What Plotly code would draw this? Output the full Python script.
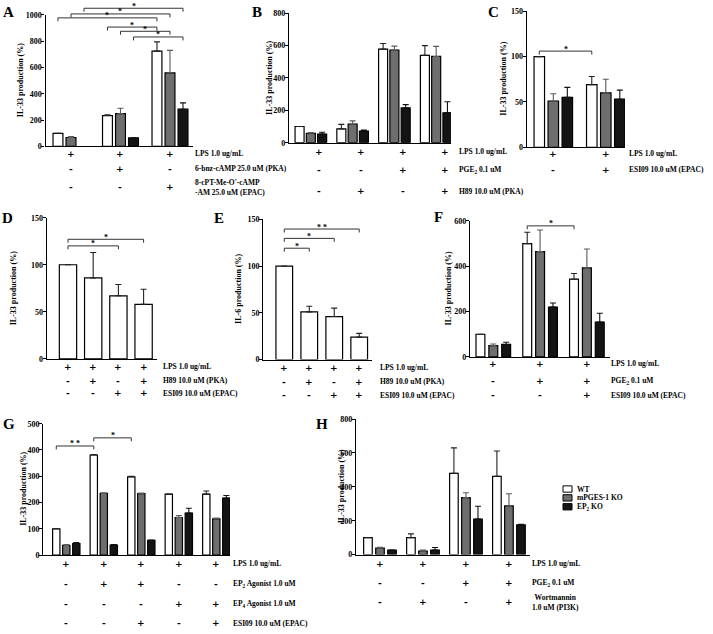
import plotly.graph_objects as go

W, H = 713, 634
SERIF = "Liberation Serif, Times New Roman, serif"
SANS = "DejaVu Sans, sans-serif"

# ---------------- data (values in % of control) ----------------
# A: cAMP analogues
a_wt = [100, 235, 725]
a_wt_err = [0, 5, 70]
a_mp = [68, 250, 560]
a_mp_err = [8, 40, 170]
a_ep = [None, 65, 283]
a_ep_err = [0, 0, 48]
a_labels = ["LPS 1.0 ug/mL", "6-bnz-cAMP 25.0 uM (PKA)", "8-cPT-Me-O'-cAMP<br>-AM 25.0 uM (EPAC)"]
a_signs = [["+", "+", "+"], ["-", "+", "-"], ["-", "-", "+"]]
a_sig = [((0, 2), (2, 2), 1050, "*"), ((0, 1), (2, 1), 1007, "*"), ((0, 0), (2, 0), 977, "*"),
         ((1, 0), (2, 0), 907, "*"), ((1, 1), (2, 1), 875, "*"), ((1, 2), (2, 2), 832, "*")]

# B: PGE2 + H89
b_wt = [100, 85, 578, 540]
b_wt_err = [0, 28, 35, 60]
b_mp = [58, 115, 572, 533]
b_mp_err = [5, 20, 25, 62]
b_ep = [53, 72, 215, 185]
b_ep_err = [12, 6, 20, 68]
b_labels = ["LPS 1.0 ug/mL", "PGE<sub>2</sub> 0.1 uM", "H89 10.0 uM (PKA)"]
b_signs = [["+", "+", "+", "+"], ["-", "-", "+", "+"], ["-", "+", "-", "+"]]
b_sig = []

# C: ESI09
c_wt = [100, 69]
c_wt_err = [0, 9]
c_mp = [51, 60]
c_mp_err = [8, 15]
c_ep = [55, 53]
c_ep_err = [11, 10]
c_labels = ["LPS 1.0 ug/mL", "ESI09 10.0 uM (EPAC)"]
c_signs = [["+", "+"], ["-", "+"]]
c_sig = [((0, 0), (1, 0), 106, "*")]

# D: IL-33, H89 / ESI09
d_wt = [100, 86, 67, 58]
d_wt_err = [0, 27, 12, 16]
d_labels = ["LPS 1.0 ug/mL", "H89 10.0 uM (PKA)", "ESI09 10.0 uM (EPAC)"]
d_signs = [["+", "+", "+", "+"], ["-", "+", "-", "+"], ["-", "-", "+", "+"]]
d_sig = [((0, 0), (3, 0), 127, "*"), ((0, 0), (2, 0), 120, "*")]

# E: IL-6, H89 / ESI09
e_wt = [100, 51, 46, 24]
e_wt_err = [0, 6, 9, 4]
e_labels = d_labels
e_signs = d_signs
e_sig = [((0, 0), (1, 0), 119, "*"), ((0, 0), (2, 0), 129.5, "*"), ((0, 0), (3, 0), 139.5, "* *")]

# F: PGE2 + ESI09
f_wt = [100, 500, 343]
f_wt_err = [0, 50, 25]
f_mp = [50, 465, 393]
f_mp_err = [7, 95, 83]
f_ep = [55, 220, 154]
f_ep_err = [10, 18, 39]
f_labels = ["LPS 1.0 ug/mL", "PGE<sub>2</sub> 0.1 uM", "ESI09 10.0 uM (EPAC)"]
f_signs = [["+", "+", "+"], ["-", "+", "+"], ["-", "-", "+"]]
f_sig = [((1, 0), (2, 0), 578, "*")]

# G: EP2 / EP4 agonists
g_wt = [100, 381, 298, 232, 232]
g_wt_err = [0, 2, 2, 0, 12]
g_mp = [37, 235, 234, 143, 138]
g_mp_err = [3, 2, 2, 7, 3]
g_ep = [44, 38, 56, 160, 217]
g_ep_err = [4, 2, 1, 18, 10]
g_labels = ["LPS 1.0 ug/mL", "EP<sub>2</sub> Agonist 1.0 uM", "EP<sub>4</sub> Agonist 1.0 uM",
            "ESI09 10.0 uM (EPAC)"]
g_signs = [["+", "+", "+", "+", "+"], ["-", "+", "+", "-", "-"], ["-", "-", "-", "+", "+"],
           ["-", "-", "+", "-", "+"]]
g_sig = [((0, 0), (1, 0), 415, "* *"), ((1, 0), (2, 0), 446, "*")]

# H: PGE2 + wortmannin
h_wt = [100, 100, 480, 462]
h_wt_err = [0, 22, 150, 150]
h_mp = [38, 20, 336, 287]
h_mp_err = [5, 6, 29, 72]
h_ep = [27, 27, 210, 175]
h_ep_err = [0, 15, 75, 4]
h_labels = ["LPS 1.0 ug/mL", "PGE<sub>2</sub> 0.1 uM", "Wortmannin<br>1.0 uM (PI3K)"]
h_signs = [["+", "+", "+", "+"], ["-", "-", "+", "+"], ["-", "+", "-", "+"]]
h_sig = []

legend_names = ["WT", "mPGES-1 KO", "EP<sub>2</sub> KO"]

# ---------------- styling / geometry (pixels) ----------------
FILLS = ["#ffffff", "#6e6e6e", "#141414"]
ERRC = ["#222222", "#5a5a5a", "#111111"]

GEOM = {
    "A": dict(L=45.5, R=193, T=11, B=144.5, yr=1000, dt=200, xr=[-0.515, 2.465], bw=0.2, step=0.263,
              rows=[152, 167, 186], lx=194, letter=(8, 8), tx=20.5, ytitle="IL-33 production (%)"),
    "B": dict(L=289, R=451, T=9.3, B=140.7, yr=800, dt=200, xr=[-0.523, 3.355], bw=0.216, step=0.27,
              soff=0.2, rows=[150, 168, 190], lx=458, letter=(257, 8), tx=270, ytitle="IL-33 production (%)"),
    "C": dict(L=526.7, R=625, T=7.3, B=145.3, yr=150, dt=50, xr=[-0.507, 1.366], bw=0.2, step=0.267,
              rows=[152, 168], lx=628, letter=(493, 8), tx=503.5, ytitle="IL-33 production (%)"),
    "D": dict(L=46.7, R=156.7, T=216.7, B=360, yr=150, dt=50, xr=[-0.845, 3.52], bw=0.687, step=0,
              rows=[368, 382, 395], lx=162, letter=(7, 217), tx=13, ytitle="IL-33 production (%)"),
    "E": dict(L=263.3, R=371.7, T=218.3, B=360.7, yr=150, dt=50, xr=[-0.84, 3.5], bw=0.668, step=0,
              rows=[369, 383, 397], lx=379, letter=(219, 217), tx=238.5, ytitle="IL-6 production (%)"),
    "F": dict(L=470, R=610, T=220, B=358, yr=600, dt=200, xr=[-0.498, 2.494], bw=0.19, step=0.275,
              rows=[365, 382, 397], lx=610, letter=(439, 216), tx=448.5, ytitle="IL-33 production (%)"),
    "G": dict(L=43.3, R=230, T=425.7, B=559, yr=500, dt=100, xr=[-0.613, 4.365], bw=0.195, step=0.267,
              rows=[568, 588, 609, 628], lx=232, letter=(9, 426), tx=23.5, ytitle="IL-33 production (%)"),
    "H": dict(L=356, R=530, T=421, B=558.5, yr=800, dt=200, xr=[-0.558, 3.49], bw=0.2, step=0.28,
              rows=[568, 587, 607], lx=531, lcenter={2: 555}, letter=(322, 426), tx=341.5,
              ytitle="IL-33 production (%)"),
}

PANELS = [
    ("A", [a_wt, a_mp, a_ep], [a_wt_err, a_mp_err, a_ep_err], a_labels, a_signs, a_sig),
    ("B", [b_wt, b_mp, b_ep], [b_wt_err, b_mp_err, b_ep_err], b_labels, b_signs, b_sig),
    ("C", [c_wt, c_mp, c_ep], [c_wt_err, c_mp_err, c_ep_err], c_labels, c_signs, c_sig),
    ("D", [d_wt], [d_wt_err], d_labels, d_signs, d_sig),
    ("E", [e_wt], [e_wt_err], e_labels, e_signs, e_sig),
    ("F", [f_wt, f_mp, f_ep], [f_wt_err, f_mp_err, f_ep_err], f_labels, f_signs, f_sig),
    ("G", [g_wt, g_mp, g_ep], [g_wt_err, g_mp_err, g_ep_err], g_labels, g_signs, g_sig),
    ("H", [h_wt, h_mp, h_ep], [h_wt_err, h_mp_err, h_ep_err], h_labels, h_signs, h_sig),
]


def px_x(p):
    return p / W


def px_y(p):
    return 1 - p / H


def font(size, family=SERIF):
    return dict(family=family, size=size, color="black", weight="bold")


def note(text, x, y, size, xanchor="center", family=SERIF, **kw):
    return dict(text=text, x=x, y=y, xref="paper", yref="paper", showarrow=False,
                xanchor=xanchor, yanchor="middle", borderpad=0, font=font(size, family), **kw)


fig = go.Figure()
annotations = []
shapes = []


def bar_x(g, grp, s, k):
    off = (s - (k - 1) / 2) * g["step"] if k > 1 else 0
    return grp + off


def paper_x(g, v):
    return (g["L"] + (v - g["xr"][0]) / (g["xr"][1] - g["xr"][0]) * (g["R"] - g["L"])) / W


def paper_y(g, v):
    return px_y(g["B"] - v / g["yr"] * (g["B"] - g["T"]))


for n, (key, series, errs, labels, signs, sig) in enumerate(PANELS, start=1):
    g = GEOM[key]
    xa = "x" if n == 1 else f"x{n}"
    ya = "y" if n == 1 else f"y{n}"
    k = len(series)
    for s, (vals, err) in enumerate(zip(series, errs)):
        off = bar_x(g, 0, s, k)
        fig.add_trace(go.Bar(
            x=list(range(len(vals))), y=vals, width=g["bw"], offset=off - g["bw"] / 2,
            xaxis=xa, yaxis=ya, showlegend=False,
            marker=dict(color=FILLS[s], line=dict(color="black", width=1.2)),
            error_y=dict(type="data", symmetric=False, array=err, arrayminus=[0] * len(err),
                         color=ERRC[s], thickness=1.1, width=3),
        ))
    sfx = "" if n == 1 else str(n)
    fig.update_layout(**{
        f"xaxis{sfx}": dict(domain=[g["L"] / W, g["R"] / W], range=g["xr"], anchor=ya,
                            showline=True, linecolor="black", linewidth=1.3, ticks="",
                            showticklabels=False, showgrid=False, zeroline=False),
        f"yaxis{sfx}": dict(domain=[1 - g["B"] / H, 1 - g["T"] / H], range=[0, g["yr"] * 1.0005],
                            anchor=xa, tick0=0, dtick=g["dt"], ticks="outside", ticklen=3,
                            tickwidth=1.2, tickcolor="black", showline=True, linecolor="black",
                            linewidth=1.3, showgrid=False, zeroline=False, tickfont=font(8),
                            ticklabelstandoff=-2),
    })
    # panel letter and y title
    lx, ly = g["letter"]
    annotations.append(note(key, px_x(lx), px_y(ly), 15))
    annotations.append(note(g["ytitle"], px_x(g["tx"]), px_y((g["T"] + g["B"]) / 2), 8, textangle=-90))
    # treatment rows
    for r, (lab, row) in enumerate(zip(labels, signs)):
        yy = px_y(g["rows"][r])
        for gi, sg in enumerate(row):
            annotations.append(note(sg, paper_x(g, gi + g.get("soff", 0)), yy, 9, family=SANS))
        lc = g.get("lcenter", {})
        if r in lc:
            annotations.append(note(lab, px_x(lc[r]), yy, 7.5, align="center"))
        else:
            annotations.append(note(lab, px_x(g["lx"]), yy, 7.5, xanchor="left", align="left"))
    # significance brackets
    for (g1, s1), (g2, s2), lev, txt in sig:
        x1 = paper_x(g, bar_x(g, g1, s1, k))
        x2 = paper_x(g, bar_x(g, g2, s2, k))
        yl = paper_y(g, lev)
        tk = 3.5 / H
        shapes.append(dict(type="path", xref="paper", yref="paper",
                           path=f"M{x1},{yl - tk} L{x1},{yl} L{x2},{yl} L{x2},{yl - tk}",
                           line=dict(color="#333333", width=1)))
        annotations.append(note(txt, (x1 + x2) / 2, yl, 8, yshift=2))

# legend (panel H)
leg_rows = [492, 501, 510]
for i, name in enumerate(legend_names):
    y0 = leg_rows[i]
    shapes.append(dict(type="rect", xref="paper", yref="paper", x0=px_x(563), x1=px_x(572),
                       y0=px_y(y0 + 3.2), y1=px_y(y0 - 3.2), fillcolor=FILLS[i],
                       line=dict(color="black", width=1)))
    annotations.append(note(name, px_x(576), px_y(y0), 7.5, xanchor="left"))

fig.update_layout(
    width=W, height=H, autosize=False,
    margin=dict(l=0, r=0, t=0, b=0),
    paper_bgcolor="white", plot_bgcolor="white",
    barmode="overlay", showlegend=False,
    annotations=annotations, shapes=shapes,
)

# the page's default body margin would shift the figure; remove it
fig.write_html("out.html", config={"displayModeBar": False},
               post_script="document.body.style.margin='0';")
